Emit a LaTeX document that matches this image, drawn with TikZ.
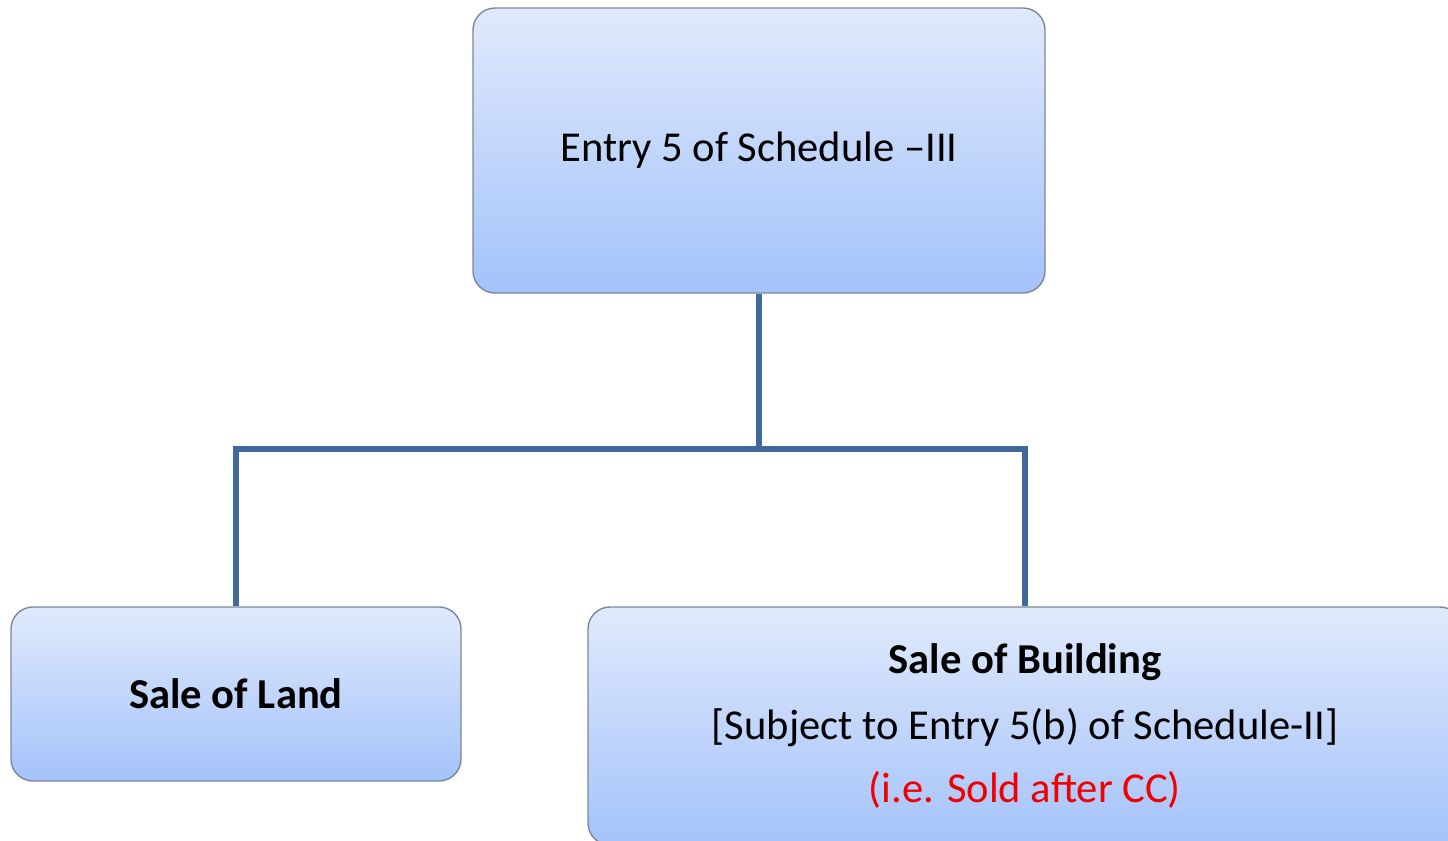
\documentclass[tikz,border=0pt]{standalone}
\usepackage{fontspec}
\setmainfont{Carlito}
\definecolor{linkblue}{RGB}{65,105,155}
\definecolor{boxtop}{RGB}{224,234,252}
\definecolor{boxbot}{RGB}{164,194,250}
\definecolor{boxedge}{RGB}{125,135,155}
\definecolor{txtred}{RGB}{240,0,0}
\begin{document}
\begin{tikzpicture}[x=0.5pt,y=0.5pt,
  box/.style={draw=boxedge, line width=0.7pt, rounded corners=11pt,
    top color=boxtop, bottom color=boxbot, inner sep=0pt, align=center,
    font=\fontsize{21.3pt}{31.5pt}\selectfont},
  link/.style={draw=linkblue, line width=3pt}]
\clip (0,0) rectangle (1448,-841);
\fill[white] (0,0) rectangle (1448,-841);
\node[box, minimum width=286pt, minimum height=142.5pt] (top) at (759,-150.5) {\raisebox{-1pt}{Entry 5 of Schedule –III}};
\node[box, minimum width=225pt, minimum height=87pt] (land) at (236,-694) {\bfseries Sale of Land};
\node[box, minimum width=437pt, minimum height=119pt] (bldg) at (1025,-726)
  {\raisebox{1.5pt}{\bfseries Sale of Building}\\[0pt][Subject to Entry 5(b) of Schedule-II]\\\textcolor{txtred}{(i.e. Sold after CC)}};
\coordinate (j) at (759,-449);
\draw[link] (top.south) -- (j);
\draw[link] (land.north) |- (j) -| (bldg.north);
\end{tikzpicture}
\end{document}
